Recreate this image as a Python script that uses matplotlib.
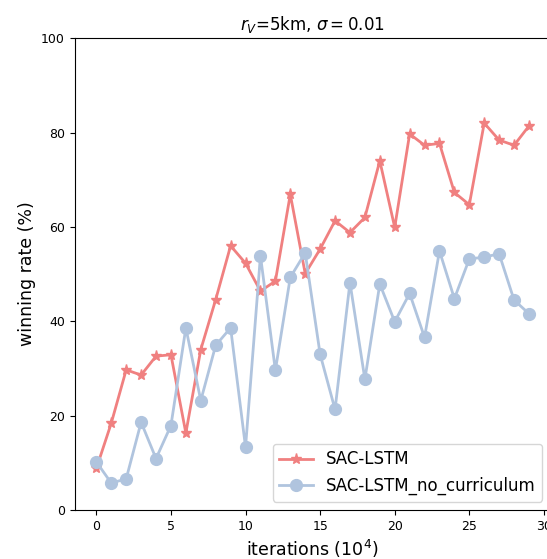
import matplotlib.pyplot as plt
import numpy as np

iters = np.arange(30)

sac_lstm = [8.8, 18.4, 29.7, 28.6, 32.6, 32.9, 16.3, 34.0, 44.6, 56.0,
            52.3, 46.4, 48.5, 66.9, 50.1, 55.3, 61.3, 58.8, 62.0, 74.0,
            59.9, 79.7, 77.3, 77.7, 67.3, 64.7, 82.0, 78.4, 77.3, 81.4]
sac_lstm_nc = [10.2, 5.7, 6.6, 18.6, 10.9, 17.9, 38.6, 23.2, 34.9, 38.6,
               13.3, 53.9, 29.6, 49.3, 54.5, 33.0, 21.3, 48.2, 27.7, 47.9,
               39.9, 45.9, 36.6, 54.9, 44.8, 53.2, 53.6, 54.3, 44.5, 41.6]

fig = plt.figure(figsize=(5.47, 5.59), dpi=100)
ax = fig.add_axes([0.1366, 0.0877, 0.870, 0.844])

ax.plot(iters, sac_lstm, color='#F08080', marker='*', markersize=8, linewidth=2, label='SAC-LSTM')
ax.plot(iters, sac_lstm_nc, color='#B0C4DE', marker='o', markersize=8.5, linewidth=2, label='SAC-LSTM_no_curriculum')

ax.set_ylim(0, 100)
ax.set_xticks([0, 5, 10, 15, 20, 25, 30])
ax.tick_params(axis='both', labelsize=9)
ax.set_xlabel('iterations ($10^4$)', fontsize=12.5)
ax.set_ylabel('winning rate (%)', fontsize=12.5)
ax.set_title(r'$r_V$=5km, $\sigma=0.01$', fontsize=12)
ax.legend(loc='lower right', fontsize=12)

plt.savefig('out.png', dpi=100)
